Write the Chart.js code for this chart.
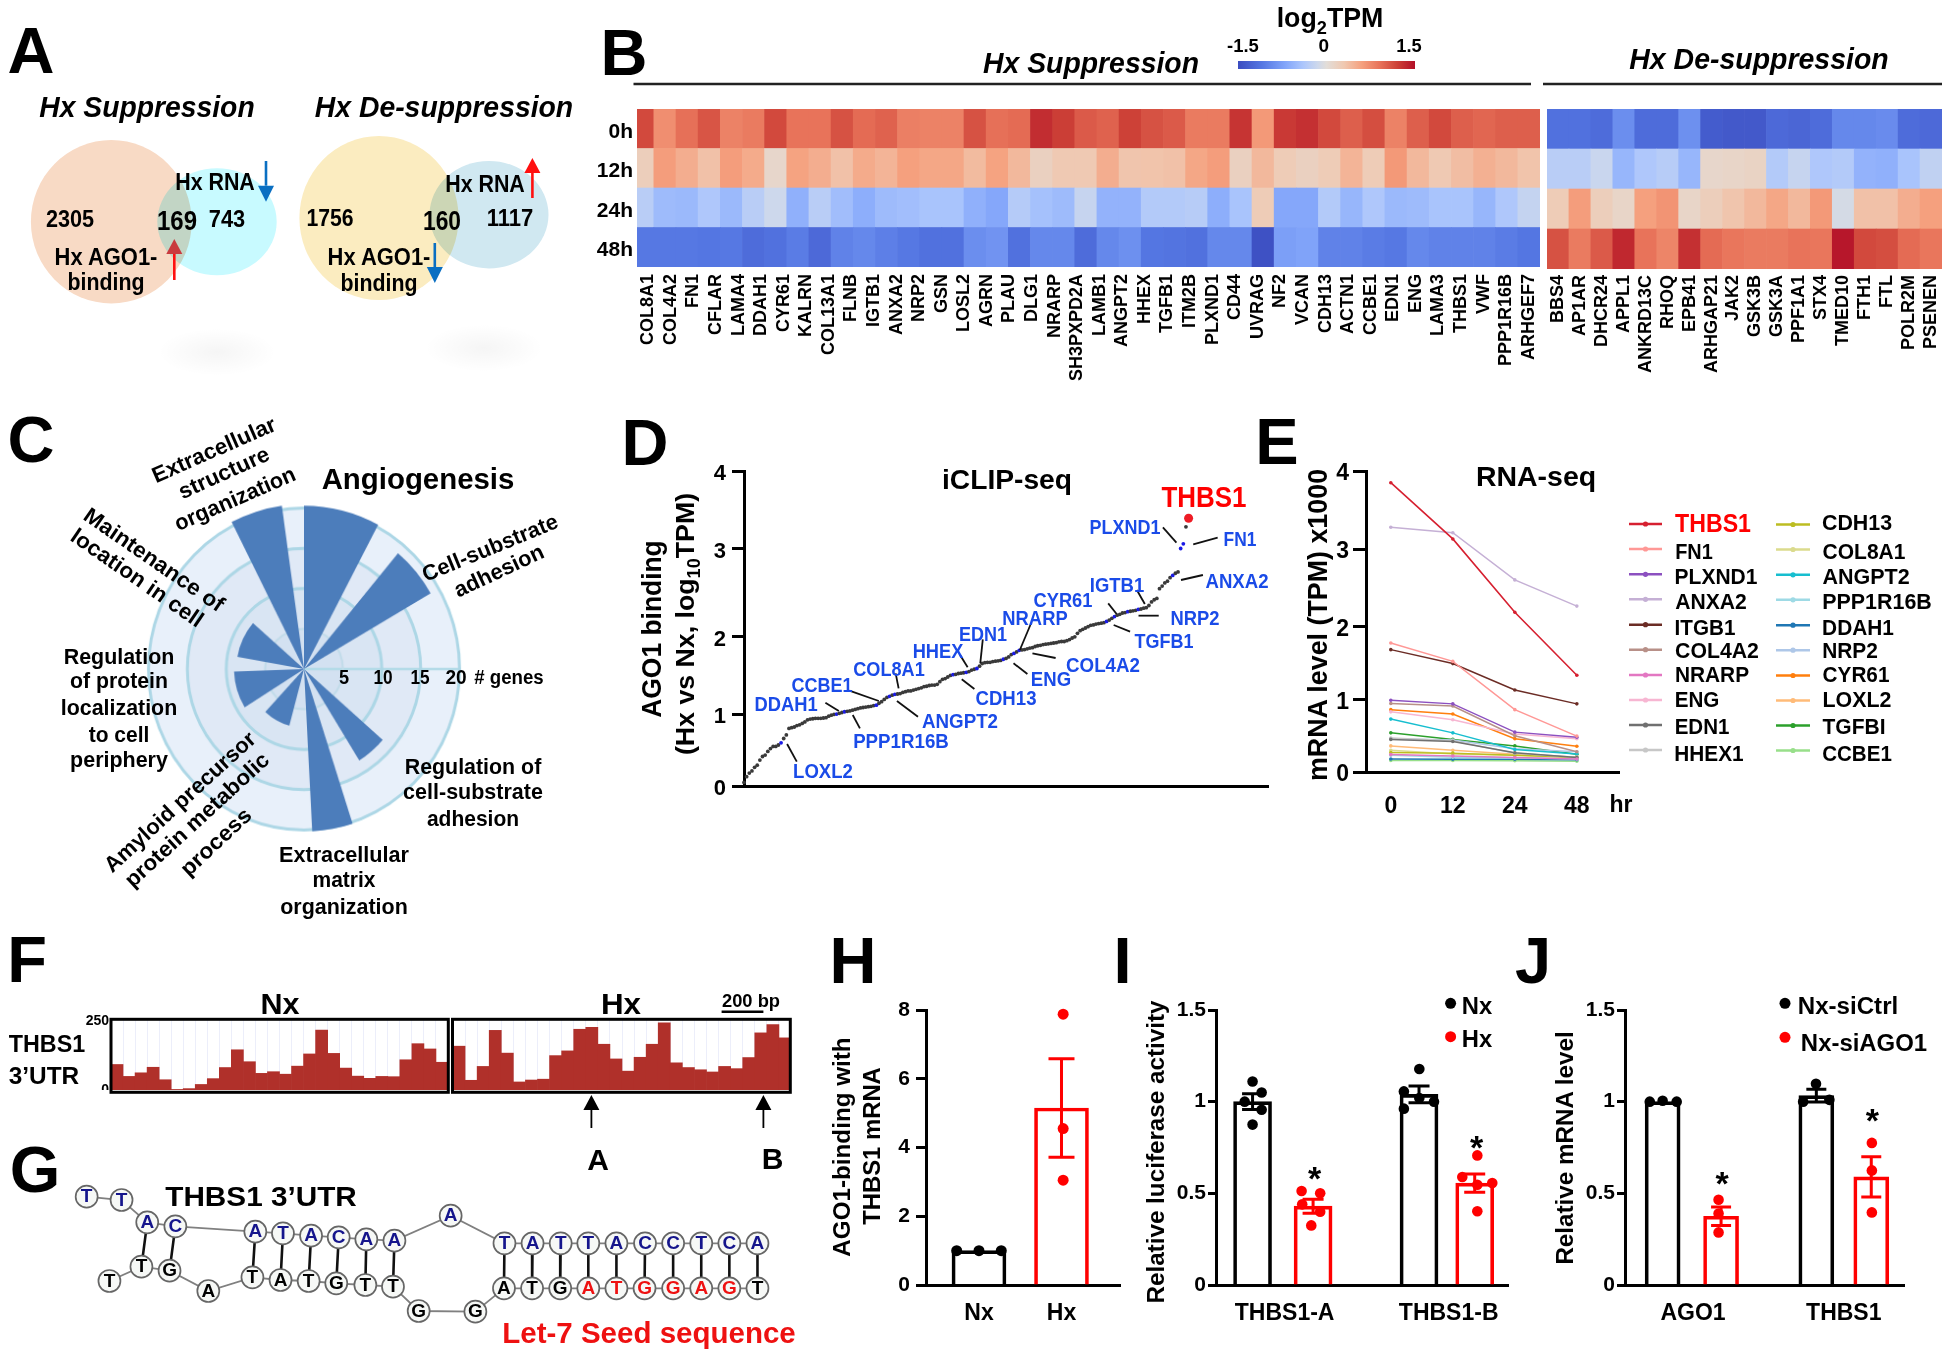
<!DOCTYPE html>
<html><head><meta charset="utf-8">
<script src="https://cdn.jsdelivr.net/npm/chart.js@4"></script>
<style>
html,body{margin:0;padding:0;background:#fff}
#root{position:relative;width:1950px;height:1357px;overflow:hidden;background:#fff;font-family:"Liberation Sans",Arial,sans-serif}
#root canvas{position:absolute}
#root svg{position:absolute;left:0;top:0}
.t{position:absolute;white-space:nowrap;line-height:1;color:#000}
.t sub{font-size:68%;line-height:0}
</style></head><body><div id="root"></div>
<script>
// ---------- DATA ----------
const suppGenes=["COL8A1","COL4A2","FN1","CFLAR","LAMA4","DDAH1","CYR61","KALRN","COL13A1","FLNB","IGTB1","ANXA2","NRP2","GSN","LOSL2","AGRN","PLAU","DLG1","NRARP","SH3PXPD2A","LAMB1","ANGPT2","HHEX","TGFB1","ITM2B","PLXND1","CD44","UVRAG","NF2","VCAN","CDH13","ACTN1","CCBE1","EDN1","ENG","LAMA3","THBS1","VWF","PPP1R16B","ARHGEF7"];
const desuppGenes=["BBS4","AP1AR","DHCR24","APPL1","ANKRD13C","RHOQ","EPB41","ARHGAP21","JAK2","GSK3B","GSK3A","PPF1A1","STX4","TMED10","FTH1","FTL","POLR2M","PSENEN"];
const timeRows=["0h","12h","24h","48h"];
const supp0h=[1.15,.72,.92,1.08,.8,.85,1.15,.9,.9,1.1,.95,1.0,.82,.8,.8,1.1,.92,.95,1.32,1.22,1.05,1.0,1.2,1.1,1.05,.85,.85,1.28,.65,1.25,1.3,1.15,1.02,1.12,.8,1.02,1.15,1.02,.98,1.02,1.02];
const supp12h=[.22,.62,.5,.35,.62,.52,.1,.58,.5,.35,.52,.45,.6,.55,.55,.4,.58,.42,.18,.28,.28,.5,.32,.33,.35,.55,.62,.18,.42,.25,.18,.25,.45,.25,.65,.42,.28,.38,.48,.42,.33];
const supp24h=[-.3,-.5,-.52,-.38,-.52,-.3,-.15,-.6,-.3,-.48,-.62,-.5,-.47,-.42,-.42,-.6,-.68,-.33,-.45,-.5,-.2,-.58,-.58,-.35,-.35,-.32,-.62,-.42,.25,-.68,-.68,-.35,-.55,-.38,-.52,-.5,-.42,-.42,-.55,-.38,-.22];
const supp48h=[-1.08,-1.08,-1.08,-1.1,-1.08,-1.2,-1.15,-1.05,-1.22,-1.0,-.95,-1.02,-1.08,-1.15,-1.15,-.9,-.85,-1.15,-.95,-.95,-1.2,-.95,-.88,-1.1,-1.12,-1.15,-.95,-.95,-1.45,-.75,-.72,-1,-1,-1.05,-1.08,-.95,-1,-1,-1,-1.05,-1.1];
const desupp0h=[-1.15,-1.15,-1.2,-.9,-1.2,-1.2,-.88,-1.35,-1.38,-1.38,-1.22,-1.25,-1.2,-.95,-.95,-.92,-1.2,-1.22];
const desupp12h=[-.3,-.3,-.18,-.55,-.38,-.32,-.55,.1,.12,.15,-.35,-.2,-.38,-.35,-.58,-.6,-.42,-.25];
const desupp24h=[.25,.62,.22,.12,.6,.68,.12,.22,.32,.42,.55,.42,.65,-.1,.35,.35,.5,.6];
const desupp48h=[1.1,.85,1.05,1.35,.9,.78,1.3,.95,.88,.85,.85,.9,.88,1.45,1.15,1.12,.95,.88];

const goTerms=["Angiogenesis","","Cell-substrate adhesion","","Regulation of cell-substrate adhesion","","Extracellular matrix organization","","Amyloid precursor protein metabolic process","","Regulation of protein localization to cell periphery","","Maintenance of location in cell","","Extracellular structure organization",""];
const goCounts=[20.3,0,18.8,0,13.4,0,20.2,0,7.3,0,9,0,8.7,0,20.5,0];
const goAngles=[28,12,20,71,17,14,15,18,28,15,30,12,31,22,19,8];

const iclipValues=[.05,.13,.18,.21,.26,.29,.36,.41,.43,.48,.52,.55,.55,.57,.60,.66,.71,.80,.81,.82,.84,.85,.87,.89,.92,.93,.935,.94,.94,.94,.945,.95,.97,.985,.995,1.0,1.01,1.02,1.03,1.035,1.04,1.05,1.06,1.07,1.08,1.085,1.09,1.095,1.10,1.11,1.115,1.14,1.16,1.19,1.215,1.23,1.245,1.255,1.26,1.265,1.28,1.29,1.30,1.30,1.31,1.32,1.33,1.34,1.355,1.36,1.37,1.375,1.375,1.385,1.42,1.45,1.46,1.48,1.50,1.51,1.515,1.525,1.53,1.535,1.54,1.55,1.57,1.58,1.59,1.62,1.655,1.665,1.67,1.67,1.68,1.685,1.69,1.695,1.71,1.72,1.74,1.77,1.785,1.805,1.825,1.83,1.835,1.845,1.855,1.86,1.875,1.885,1.89,1.90,1.905,1.91,1.915,1.92,1.925,1.935,1.94,1.94,1.95,1.965,1.985,2.0,2.04,2.07,2.085,2.10,2.115,2.13,2.135,2.145,2.15,2.155,2.16,2.175,2.19,2.21,2.23,2.245,2.255,2.27,2.275,2.285,2.29,2.295,2.30,2.31,2.315,2.325,2.33,2.355,2.395,2.42,2.435,2.545,2.575,2.61,2.63,2.67,2.695,2.72,2.735,3.0,3.06,3.28,3.39];
const iclipBlueRanks=[14,35,38,50,55,57,79,84,88,98,102,104,137,140,145,149,162,165,166];
const iclipRedRank=168;

const rnaHours=["0","12","24","48"];
const rnaGenes=["THBS1","FN1","PLXND1","ANXA2","ITGB1","COL4A2","NRARP","ENG","EDN1","HHEX1","CDH13","COL8A1","ANGPT2","PPP1R16B","DDAH1","NRP2","CYR61","LOXL2","TGFBI","CCBE1"];
const rnaTHBS1=[3.85,3.13,2.18,1.33];
const rnaFN1=[1.77,1.52,.86,.495];
const rnaPLXND1=[.99,.94,.55,.48];
const rnaANXA2=[3.28,3.21,2.6,2.26];
const rnaITGB1=[1.68,1.49,1.13,.94];
const rnaCOL4A2=[.945,.91,.5,.28];
const rnaNRARP=[.24,.22,.2,.18];
const rnaENG=[.83,.72,.525,.46];
const rnaEDN1=[.45,.42,.265,.2];
const rnaHHEX1=[.47,.43,.26,.205];
const rnaCDH13=[.27,.26,.23,.205];
const rnaCOL8A1=[.3,.25,.23,.195];
const rnaANGPT2=[.73,.54,.31,.25];
const rnaPPP1R16B=[.23,.205,.195,.18];
const rnaDDAH1=[.18,.175,.175,.17];
const rnaNRP2=[.46,.44,.32,.28];
const rnaCYR61=[.86,.8,.46,.355];
const rnaLOXL2=[.36,.3,.245,.205];
const rnaTGFBI=[.54,.45,.36,.245];
const rnaCCBE1=[.16,.16,.155,.15];

const nxCoverage=[92,49,62,82,37,2,5,20,41,81,145,102,60,66,57,86,130,216,132,79,50,42,49,48,109,167,148,100];
const hxCoverage=[158,35,85,215,133,29,36,39,124,141,219,226,165,112,68,118,165,242,98,81,73,65,85,77,117,206,236,188];

const rnaTopBases=["T","T","A","C","A","T","A","C","A","A","A","T","A","T","T","A","C","C","T","C","A"];
const rnaTopX=[55,127,180,238,403,460,518,575,632,690,806,917,975,1033,1090,1148,1207,1265,1323,1381,1439];
const rnaTopY=[140,150,217,229,245,250,257,262,268,272,197,280,280,280,280,280,280,280,280,280,280];
const rnaBotBases=["T","T","G","A","T","A","T","G","T","T","G","G","A","T","G","A","T","G","G","A","G","T"];
const rnaBotX=[102,168,226,306,397,455,513,570,630,687,740,857,916,974,1032,1090,1148,1206,1265,1323,1381,1439];
const rnaBotY=[393,350,362,423,382,390,393,400,405,410,483,485,415,415,415,415,415,415,415,415,415,415];
const rnaPairTop=[2,3,4,5,6,7,8,9,11,12,13,14,15,16,17,18,19,20];
const rnaPairBot=[1,2,4,5,6,7,8,9,12,13,14,15,16,17,18,19,20,21];
const seedBotRanks=[15,16,17,18,19,20];

const hLabels=["Nx","Hx"];
const hBarX=[0,1], hMeans=[1,5.15], hSem=[0,1.43];
const hNxDotX=[-.27,0,.27], hNxDotY=[1,1,1];
const hHxDotX=[1.02,1.02,1.02], hHxDotY=[7.88,4.55,3.05];

const iLabels=["THBS1-A","THBS1-B"];
const iBarX=[0,1,2.75,3.67], iMeans=[1,.43,1.04,.556], iSem=[.043,.038,.046,.05];
const iNxDotX=[0,.15,-.13,.15,0,2.755,2.5,2.755,2.997,2.5], iNxDotY=[1.11,1.05,1.0,.956,.875,1.178,1.056,1.02,1.0,.962];
const iHxDotX=[.81,1.117,.82,1.117,.97,3.713,3.465,3.96,3.713,3.713], iHxDotY=[.513,.5,.44,.4,.325,.707,.589,.556,.547,.402];

const jLabels=["AGO1","THBS1"];
const jBarX=[0,1,2.63,3.57], jMeans=[1,.375,1.033,.59], jSem=[0,.05,.035,.11];
const jCtrlDotX=[-.22,0,.24,2.624,2.404,2.853], jCtrlDotY=[1,1.005,1,1.098,1.0,1.01];
const jSiDotX=[.957,.957,.957,3.58,3.58,3.58], jSiDotY=[.465,.39,.287,.775,.625,.396];

// ---------- STYLE / HELPERS ----------
const FONT='"Liberation Sans",Arial,sans-serif';
Chart.defaults.font.family=FONT;
Chart.defaults.color='#000';
Chart.defaults.animation=false;
const root=document.getElementById('root');

function T(x,y,html,o={}){
  const e=document.createElement('div');e.className='t';
  e.innerHTML=html;
  e.style.fontSize=(o.size||22)+'px';
  e.style.fontWeight=o.weight||'bold';
  if(o.italic)e.style.fontStyle='italic';
  if(o.color)e.style.color=o.color;
  e.style.left=x+'px';e.style.top=y+'px';
  root.appendChild(e);
  let sx=1;
  if(o.w){sx=o.w/e.offsetWidth;}
  e.style.transform=`translate(-50%,-50%) rotate(${o.rot||0}deg) scaleX(${sx})`;
  e.style.zIndex=5;
  return e;
}
function TL(x,y,html,o){return T(x+o.w/2,y,html,o);}

const HEAT_STOPS=[[-1.5,59,76,192],[-1.1,84,118,226],[-.7,130,165,250],[-.4,172,198,252],[-.15,205,216,236],[0,226,221,216],[.3,240,200,176],[.6,245,160,126],[.9,232,115,90],[1.2,205,65,55],[1.5,178,15,40]];
function heat(v){
  for(let i=1;i<HEAT_STOPS.length;i++){
    const a=HEAT_STOPS[i-1],b=HEAT_STOPS[i];
    if(v<=b[0]){const f=Math.max(0,(v-a[0])/(b[0]-a[0]));
      return `rgb(${Math.round(a[1]+f*(b[1]-a[1]))},${Math.round(a[2]+f*(b[2]-a[2]))},${Math.round(a[3]+f*(b[3]-a[3]))})`;}
  }
  return 'rgb(178,15,40)';
}

const PIECES={D:[0,.2284,.4735,.7539,1],E:[0,.2408,.4845,.7406,1]};
class PiecewiseScale extends Chart.LinearScale{
  static id='piecewise';
  static defaults=Chart.LinearScale.defaults;
  getPixelForValue(v){
    if(v===null||v===undefined)return NaN;
    const p=PIECES[this.options.pieceKey];
    const i=Math.min(Math.max(Math.floor(v),0),p.length-2);
    return this.getPixelForDecimal(p[i]+(v-i)*(p[i+1]-p[i]));
  }
}
Chart.register(PiecewiseScale);

function mk(L,Tp,R,B,g,cfg){
  const {l=0,t=0,r=0,b=0}=g;
  const c=document.createElement('canvas');
  const w=Math.round(R-L+l+r),h=Math.round(B-Tp+t+b);
  c.width=w;c.height=h;
  c.style.left=(L-l)+'px';c.style.top=(Tp-t)+'px';c.style.width=w+'px';c.style.height=h+'px';
  root.appendChild(c);
  const o=cfg.options=cfg.options||{};
  o.responsive=false;o.maintainAspectRatio=false;o.animation=false;o.devicePixelRatio=1;
  o.plugins=Object.assign({legend:{display:false},tooltip:{enabled:false}},o.plugins||{});
  let xv=false,yv=false;
  for(const k in (o.scales||{})){
    const s=o.scales[k];
    if(s.display===false)continue;
    if(k[0]==='x'){xv=true;s.offset=s.offsetKeep?true:false;s.afterFit=a=>{a.height=b;a.paddingLeft=0;a.paddingRight=0;};}
    if(k[0]==='y'){yv=true;s.afterFit=a=>{a.width=l;a.paddingTop=0;a.paddingBottom=0;};}
  }
  o.layout={autoPadding:false,padding:{left:yv?0:l,top:t,right:r,bottom:xv?0:b}};
  return new Chart(c,cfg);
}

const AX={color:'#000',width:3};
const yGrid=(len)=>({drawOnChartArea:false,drawTicks:true,tickLength:len,tickWidth:3,tickColor:'#000'});
const noGrid={display:false,drawTicks:false};

const errPlugin={id:'err',afterDatasetsDraw(ch){
  const y=ch.scales.y,ctx=ch.ctx;
  ch.data.datasets.forEach((ds,k)=>{
    if(!ds.sem)return;
    ch.getDatasetMeta(k).data.forEach((el,i)=>{
      if(!ds.sem[i])return;
      const m=ds.data[i].y,top=y.getPixelForValue(m+ds.sem[i]),bot=y.getPixelForValue(m-ds.sem[i]),cap=ds.capPx;
      ctx.save();ctx.strokeStyle=ds.borderColor[i];ctx.lineWidth=3;ctx.beginPath();
      ctx.moveTo(el.x,top);ctx.lineTo(el.x,bot);
      ctx.moveTo(el.x-cap/2,top);ctx.lineTo(el.x+cap/2,top);
      ctx.moveTo(el.x-cap/2,bot);ctx.lineTo(el.x+cap/2,bot);
      ctx.stroke();ctx.restore();
    });
  });
}};
const pts=(xs,ys)=>xs.map((x,i)=>({x,y:ys[i]}));

// ---------- PANEL B heatmaps ----------
const ROW_ORDER_S=[supp48h,supp24h,supp12h,supp0h];
const ROW_ORDER_D=[desupp48h,desupp24h,desupp12h,desupp0h];
const rowTicks=a=>{a.ticks=[.5,1.5,2.5,3.5].map(value=>({value}));};
const rowLabel=(v,i)=>timeRows[3-i];
const rowFont={size:21,weight:'bold'};
const geneFont={size:18,weight:'bold'};
mk(636.6,109.3,1540,267.7,{l:46,t:14,r:4,b:132},{
  type:'bar',
  data:{datasets:ROW_ORDER_S.map((vals,k)=>({
    data:vals.map((v,i)=>({x:i+.5,y:1})),
    backgroundColor:vals.map(heat),barPercentage:1,categoryPercentage:1,borderWidth:0}))},
  options:{scales:{
    x:{type:'linear',display:false,stacked:true,min:.24,max:41,offset:false},
    x2:{type:'category',labels:suppGenes,offsetKeep:true,position:'bottom',grid:noGrid,border:{display:false},
        ticks:{autoSkip:false,minRotation:90,maxRotation:90,padding:7,font:geneFont}},
    y:{stacked:true,min:0,max:4,afterBuildTicks:rowTicks,grid:{display:false,drawTicks:false},border:{display:false},
       ticks:{autoSkip:false,padding:4,labelOffset:3,font:rowFont,callback:rowLabel}}
  }}
});
mk(1547.3,109.3,1942,269.3,{l:0,t:14,r:4,b:132},{
  type:'bar',
  data:{labels:desuppGenes,datasets:ROW_ORDER_D.map(vals=>({
    data:vals.map(()=>1),backgroundColor:vals.map(heat),barPercentage:1,categoryPercentage:1,borderWidth:0}))},
  options:{scales:{
    x:{stacked:true,offsetKeep:true,grid:noGrid,border:{display:false},ticks:{autoSkip:false,minRotation:90,maxRotation:90,padding:6,font:geneFont}},
    y:{display:false,stacked:true,min:0,max:4}
  }}
});
// colour bar
(function(){
  const d=document.createElement('div');
  const a=HEAT_STOPS[0][0],z=HEAT_STOPS[HEAT_STOPS.length-1][0];
  d.style.cssText='position:absolute;left:1237.5px;top:61px;width:177.5px;height:8px;background:linear-gradient(90deg,'+
    HEAT_STOPS.map(s=>`rgb(${s[1]},${s[2]},${s[3]}) ${((s[0]-a)/(z-a)*100).toFixed(1)}%`).join(',')+')';
  root.appendChild(d);
})();

// ---------- PANEL C polar ----------
const C_CX=304,C_CY=668.6,C_UNIT=7.9,C_HALF=Math.round(25*C_UNIT);
const discPlugin={id:'disc',beforeDraw(ch){
  const r=ch.scales.r,ctx=ch.ctx;
  ctx.save();
  [[20,'#e8f0fa'],[15,'#e0e9f6'],[10,'#d9e5f3'],[5,'#d3e1f1']].forEach(([v,c])=>{
    ctx.fillStyle=c;ctx.beginPath();ctx.arc(r.xCenter,r.yCenter,r.getDistanceFromCenterForValue(v),0,Math.PI*2);ctx.fill();
  });
  ctx.strokeStyle='#b4dbe8';ctx.lineWidth=2.5;ctx.beginPath();
  ctx.moveTo(r.xCenter,r.yCenter);ctx.lineTo(r.xCenter+r.getDistanceFromCenterForValue(20),r.yCenter);ctx.stroke();
  ctx.restore();
}};
(function(){
  const ch=mk(C_CX-C_HALF,C_CY-C_HALF,C_CX+C_HALF,C_CY+C_HALF,{},{
    type:'polarArea',
    data:{labels:goTerms,datasets:[{data:goCounts,angle:c=>goAngles[c.dataIndex],backgroundColor:'#4c7dbb',borderWidth:0}]},
    options:{scales:{r:{min:0,max:25,startAngle:0,ticks:{display:false,stepSize:5},
      grid:{circular:true,lineWidth:c=>c.tick.value===5?2:3,color:c=>c.tick.value>20?'rgba(0,0,0,0)':(c.tick.value===5?'#c2dcea':'#add7e6')}}}},
    plugins:[discPlugin]
  });
  ch.canvas.style.transform='scale(.982,1.016)';
})();

// ---------- PANEL D scatter ----------
const iclipColor=iclipValues.map((v,i)=>i===iclipRedRank?'#ee1c25':iclipBlueRanks.includes(i)?'#1a1ae6':'#3a3a3a');
const iclipRadius=iclipValues.map((v,i)=>i===iclipRedRank?4.5:1.9);
mk(744,470.7,1268,786,{l:62,t:16,r:6,b:14},{
  type:'scatter',
  data:{datasets:[{data:iclipValues.map((y,x)=>({x,y})),pointBackgroundColor:iclipColor,pointRadius:iclipRadius,pointBorderWidth:0,clip:false}]},
  options:{scales:{
    x:{type:'linear',min:0,max:198,grid:noGrid,border:AX,ticks:{display:false}},
    y:{type:'piecewise',pieceKey:'D',min:0,max:4,border:AX,grid:yGrid(12),ticks:{stepSize:1,padding:6,labelOffset:3,font:{size:22,weight:'bold'}}}
  }}
});

// ---------- PANEL E lines ----------
const rnaSeries=[rnaTHBS1,rnaFN1,rnaPLXND1,rnaANXA2,rnaITGB1,rnaCOL4A2,rnaNRARP,rnaENG,rnaEDN1,rnaHHEX1,rnaCDH13,rnaCOL8A1,rnaANGPT2,rnaPPP1R16B,rnaDDAH1,rnaNRP2,rnaCYR61,rnaLOXL2,rnaTGFBI,rnaCCBE1];
const rnaColors=['#d62030','#ff9896','#8c50c0','#c5b0d5','#6b2c25','#b89088','#e377c2','#f7b6d2','#707070','#c7c7c7','#bcbd22','#dbdb8d','#17becf','#9edae5','#1f77b4','#aec7e8','#ff7f0e','#ffbb78','#2ca02c','#98df8a'];
mk(1365.6,471,1618.7,771.7,{l:48,t:16,r:14,b:50},{
  type:'line',
  data:{datasets:rnaGenes.map((g,k)=>({label:g,data:rnaSeries[k].map((y,x)=>({x,y})),borderColor:rnaColors[k],backgroundColor:rnaColors[k],borderWidth:k===0?1.6:1.5,pointRadius:1.8,pointBorderWidth:0,tension:0}))},
  options:{scales:{
    x:{type:'linear',min:-.4,max:3.68,grid:noGrid,border:AX,afterBuildTicks:a=>{a.ticks=[0,1,2,3].map(value=>({value}));},
       ticks:{autoSkip:false,padding:21,maxRotation:0,font:{size:23,weight:'bold'},callback:(v,i)=>rnaHours[i]}},
    y:{type:'piecewise',pieceKey:'E',min:0,max:4,border:AX,grid:yGrid(13),ticks:{stepSize:1,padding:4,labelOffset:3,font:{size:23,weight:'bold'}}}
  }}
});

// ---------- PANEL F tracks ----------
const TRACK_RED='#b0302a';
function track(L,R,vals,withTicks){
  mk(L,1019.3,R,1090.7,{l:withTicks?40:0,t:withTicks?10:0},{
    type:'bar',
    data:{labels:vals.map((_,i)=>i+1),datasets:[{data:vals,backgroundColor:TRACK_RED,barPercentage:1,categoryPercentage:1,borderWidth:0}]},
    options:{scales:{
      x:{display:true,offsetKeep:true,grid:{display:true,drawTicks:false,color:'#eceefa',lineWidth:1},border:{display:false},ticks:{display:false}},
      y:withTicks?{min:0,max:256,grid:{display:false,drawTicks:false},border:{display:false},afterBuildTicks:a=>{a.ticks=[0,250].map(value=>({value}));},
         ticks:{padding:2,autoSkip:false,font:{size:14,weight:'bold'}}}:{display:false,min:0,max:256}
    }}
  });
}
track(111,448.3,nxCoverage,true);
track(452.5,790.3,hxCoverage,false);

// ---------- PANEL G structure ----------
const basePlugin={id:'bases',afterDatasetsDraw(ch){
  const ctx=ch.ctx;ctx.save();ctx.textAlign='center';ctx.textBaseline='middle';ctx.font='bold 19px '+FONT;
  ch.data.datasets.forEach((ds,k)=>{
    if(!ds.bases)return;
    ch.getDatasetMeta(k).data.forEach((el,i)=>{
      ctx.fillStyle=ds.baseColors[i];ctx.fillText(ds.bases[i],el.x,el.y+.5);
    });
  });
  ctx.restore();
}};
const pairLine=rnaPairTop.flatMap((t,i)=>[{x:rnaTopX[t],y:rnaTopY[t]},{x:rnaBotX[rnaPairBot[i]],y:rnaBotY[rnaPairBot[i]]},{x:null,y:null}]);
mk(60,1150,820,1357,{},{
  type:'scatter',
  data:{datasets:[
    {data:pts(rnaTopX,rnaTopY),showLine:true,borderColor:'#808080',borderWidth:1.8,pointRadius:0,order:3},
    {data:pts(rnaBotX,rnaBotY),showLine:true,borderColor:'#808080',borderWidth:1.8,pointRadius:0,order:3},
    {data:pairLine,showLine:true,borderColor:'#111',borderWidth:2.6,pointRadius:0,spanGaps:false,order:2},
    {data:pts(rnaTopX,rnaTopY),pointRadius:11,pointBackgroundColor:'#f6f8f6',pointBorderColor:'#666',pointBorderWidth:1.7,order:1,
      bases:rnaTopBases,baseColors:rnaTopBases.map(()=>'#15158c')},
    {data:pts(rnaBotX,rnaBotY),pointRadius:11,pointBackgroundColor:'#f6f8f6',pointBorderColor:'#666',pointBorderWidth:1.7,order:1,
      bases:rnaBotBases,baseColors:rnaBotBases.map((b,i)=>seedBotRanks.includes(i)?'#ee1111':'#000')}
  ]},
  options:{scales:{x:{type:'linear',display:false,min:0,max:1568},y:{type:'linear',display:false,min:0,max:621,reverse:true}}},
  plugins:[basePlugin]
});

// ---------- PANELS H, I, J ----------
function barPanel(L,R,g,cfg){
  const colors=cfg.barX.map((_,i)=>cfg.barColors[i]);
  const dots=cfg.dots.map(d=>({type:'scatter',data:pts(d.x,d.y),pointRadius:d.r,pointBackgroundColor:d.c,pointBorderWidth:0,order:1,clip:false}));
  mk(L,1010,R,1285.3,g,{
    data:{datasets:[{type:'bar',data:pts(cfg.barX,cfg.means),sem:cfg.sem,capPx:cfg.cap,barThickness:cfg.thick,
        backgroundColor:'rgba(255,255,255,0)',borderColor:colors,borderWidth:3,order:2},...dots]},
    options:{scales:{
      x:{type:'linear',min:cfg.min,max:cfg.max,grid:noGrid,border:AX,afterBuildTicks:a=>{a.ticks=cfg.tickX.map(value=>({value}));},
         ticks:{autoSkip:false,maxRotation:0,padding:15,font:{size:cfg.xFont,weight:'bold'},callback:(v,i)=>cfg.labels[i]}},
      y:{min:0,max:cfg.ymax,border:AX,grid:yGrid(cfg.tick),ticks:{stepSize:cfg.step,padding:cfg.pad,font:{size:21,weight:'bold'},callback:v=>String(v)}}
    }},
    plugins:[errPlugin]
  });
}
barPanel(926,1120,{l:50,t:14,r:8,b:50},{barX:hBarX,means:hMeans,sem:hSem,barColors:['#000','#ff0000'],cap:26,thick:54,
  dots:[{x:hNxDotX,y:hNxDotY,c:'#000',r:5.5},{x:hHxDotX,y:hHxDotY,c:'#ff0000',r:5.5}],
  min:-.642,max:1.709,tickX:[0,1],labels:hLabels,ymax:8,step:2,tick:10,pad:6,xFont:23});
barPanel(1216.4,1508.7,{l:56,t:14,r:10,b:50},{barX:iBarX,means:iMeans,sem:iSem,barColors:['#000','#ff0000','#000','#ff0000'],cap:21,thick:38,
  dots:[{x:iNxDotX,y:iNxDotY,c:'#000',r:5.3},{x:iHxDotX,y:iHxDotY,c:'#ff0000',r:5.3}],
  min:-.604,max:4.22,tickX:[.53,3.24],labels:iLabels,ymax:1.5,step:.5,tick:8,pad:2,xFont:23});
barPanel(1625.3,1904.6,{l:56,t:14,r:10,b:50},{barX:jBarX,means:jMeans,sem:jSem,barColors:['#000','#ff0000','#000','#ff0000'],cap:20,thick:35,
  dots:[{x:jCtrlDotX,y:jCtrlDotY,c:'#000',r:5.3},{x:jSiDotX,y:jSiDotY,c:'#ff0000',r:5.3}],
  min:-.644,max:4.13,tickX:[.52,3.1],labels:jLabels,ymax:1.5,step:.5,tick:8,pad:2,xFont:23});

// ---------- SVG annotations ----------
const NS='http://www.w3.org/2000/svg';
const svg=document.createElementNS(NS,'svg');
svg.setAttribute('width',1950);svg.setAttribute('height',1357);
svg.style.zIndex=3;
root.appendChild(svg);
function S(tag,a,st){const e=document.createElementNS(NS,tag);for(const k in a)e.setAttribute(k,a[k]);if(st)e.style.cssText=st;svg.appendChild(e);return e;}
function ell(cx,cy,rx,ry,fill){S('ellipse',{cx,cy,rx,ry,fill},'mix-blend-mode:multiply');}
function line(x1,y1,x2,y2,c='#000',w=2){S('line',{x1,y1,x2,y2,stroke:c,'stroke-width':w});}
function arrow(x,y1,y2,c,hw,hh,w,hc){ // from y1 (tail) to y2 (tip)
  const d=y2>y1?1:-1;
  line(x,y1,x,y2-d*hh,c,w);
  S('polygon',{points:`${x-hw},${y2-d*hh} ${x+hw},${y2-d*hh} ${x},${y2}`,fill:hc||c});
}
// Venn
ell(111.3,221.7,80.4,81.7,'#f8dac5');
ell(217,221.7,59.7,53.5,'#c8faff');
ell(379,218,79.6,82,'#fbecc0');
ell(489,214.7,59.5,53.7,'#d0e8f1');
arrow(266,161,201.7,'#0a6fc2',8,16,2.6);
arrow(174.3,280,239,'#ff1010',8,15,2.6,'#c93a3e');
arrow(532.4,198,158,'#ff1010',8,15,2.6);
arrow(434.8,243,283,'#0a6fc2',8,16,2.6);
// header rules
line(633.5,84,1531,84,'#222',2.4);
line(1543,84,1942,84,'#222',2.4);
// F frames, scale bar, arrows
S('rect',{x:111,y:1019.3,width:337.3,height:73,fill:'none',stroke:'#000','stroke-width':3});
S('rect',{x:452.5,y:1019.3,width:337.8,height:73,fill:'none',stroke:'#000','stroke-width':3});
line(721.6,1011.7,763.4,1011.7,'#000',2.6);
arrow(591.4,1128,1095,'#000',8,15,1.8);
arrow(763.4,1128,1095,'#000',8,15,1.8);
// D leaders (read in the crop's own coordinates)
const dx=z=>620+z/2.376,dy=z=>420+z/3;
[[1290,322,1322,368],[1362,373,1420,353],[1333,480,1385,465],[1228,510,1247,552],[1160,550,1180,582],[1232,587,1280,587],[1173,615,1212,635],[975,615,950,690],[980,700,1035,714],[862,658,856,730],[935,730,968,762],[808,705,826,742],[812,778,842,807],[655,760,662,805],[658,843,708,890],[545,812,615,843],[488,848,520,873],[553,885,570,925],[397,972,420,1025]]
  .forEach(s=>line(dx(s[0]),dy(s[1]),dx(s[2]),dy(s[3]),'#111',1.8));
// E legend swatches
const lgSwY=[524,549,574.3,599.3,624.7,649.7,675,700,725,750];
const lgTextY=[523.3,551.7,577.3,602.3,627.7,650.5,675,700,727.3,754.3];
const lgWidths=[76,38,83,72,61,84,74,45,55,69,70,83,87,110,72,56,67,69,63,70];
rnaGenes.forEach((g,k)=>{
  const col=k<10?0:1,row=k%10;
  const x1=col?1776:1629,x2=col?1810:1662,tx=col?1822:1674.6;
  const sy=lgSwY[row]+(col?.5:0);
  line(x1,sy,x2,sy,rnaColors[k],2.4);
  S('circle',{cx:(x1+x2)/2,cy:sy,r:2.6,fill:rnaColors[k]});
  TL(tx,lgTextY[row],g,{size:k===0?25:22,w:lgWidths[k],color:k===0?'#ff0000':'#000'});
});
// I, J legends
[[1450.6,1003.3,'#000'],[1450.6,1036.7,'#ff0000'],[1785,1003.3,'#000'],[1785,1037.3,'#ff0000']].forEach(c=>S('circle',{cx:c[0],cy:c[1],r:5.5,fill:c[2]}));

// blurred shadows under the Venn diagrams
[[217,352],[484,348]].forEach(c=>{
  const d=document.createElement('div');
  d.style.cssText=`position:absolute;left:${c[0]-60}px;top:${c[1]-24}px;width:120px;height:48px;background:radial-gradient(ellipse at center,rgba(0,0,0,.04),rgba(0,0,0,0) 70%)`;
  root.appendChild(d);
});

// ---------- TEXT ----------
[["A",31,50],["B",624,52],["C",31,439],["D",645,442],["E",1277,441],["F",27,959],["G",35,1169],["H",853,960],["I",1122.5,960],["J",1533,960]]
  .forEach(p=>T(p[1],p[2],p[0],{size:65}));
// A
T(147,107,"Hx Suppression",{size:30,italic:true,w:215});
T(444,107,"Hx De-suppression",{size:30,italic:true,w:258});
[[215.4,182,"Hx RNA",80],[69.6,219,"2305",48],[227,219,"743",36],[106,257,"Hx AGO1-",103],[106,281.7,"binding",77],
 [485,184,"Hx RNA",80],[330,218,"1756",47],[510,218,"1117",47],[378.7,257,"Hx AGO1-",103],[378.7,282.7,"binding",77]]
 .forEach(p=>T(p[0],p[1],p[2],{size:23,w:p[3]}));
T(177,220.7,"169",{size:27,w:40});
T(441.5,220.7,"160",{size:27,w:38});
// B
T(1091,63,"Hx Suppression",{size:30,italic:true,w:215.6});
T(1759,59,"Hx De-suppression",{size:30,italic:true,w:259});
T(1329.5,18,"log<sub>2</sub>TPM",{size:28,w:107});
T(1243,45,"-1.5",{size:19,w:32});T(1323.7,45,"0",{size:19});T(1409,45,"1.5",{size:19,w:25});
// C
T(418,479,"Angiogenesis",{size:30,w:193});
[[214,450,"Extracellular",-23.7,133],[224,473,"structure",-24.4,97],[235,499,"organization",-23.5,130],
 [490,547.5,"Cell-substrate",-22.3,145],[499.4,571,"adhesion",-25,97],
 [154,560,"Maintenance of",34.6,165],[137,577.7,"location in cell",34.7,156],
 [180,801.7,"Amyloid precursor",-42.4,197],[197,820,"protein metabolic",-42.5,187],[216,841.7,"process",-43,88]]
 .forEach(p=>T(p[0],p[1],p[2],{size:22,rot:p[3],w:p[4]}));
[[119.4,656.7,"Regulation",111],[119.4,680.7,"of protein",97.6],[119.4,707.7,"localization",116.7],[119.4,735,"to cell",61],[119.4,760,"periphery",97.6],
 [472.6,767.3,"Regulation of",137],[472.6,792.3,"cell-substrate",139.7],[472.6,819.3,"adhesion",92.6],
 [344.4,855,"Extracellular",130],[344.4,880,"matrix",63],[344.4,906.7,"organization",127.8]]
 .forEach(p=>T(p[0],p[1],p[2],{size:22,w:p[3]}));
[[344.4,"5",10],[382.7,"10",19],[419.8,"15",19],[456,"20",21],[509,"# genes",69]].forEach(p=>T(p[0],676.7,p[1],{size:20,w:p[2]}));
// D
T(1007,480,"iCLIP-seq",{size:27,w:130.5});
T(1204,496.7,"THBS1",{size:29,w:85,color:'#ff0000'});
T(651.6,629,"AGO1 binding",{size:27,rot:-90,w:178});
T(685,624,"(Hx vs Nx, log<sub>10</sub>TPM)",{size:26,rot:-90,w:262});
[["PLXND1",1200,325,71],["FN1",1472,360,33],["ANXA2",1465,487,63],["IGTB1",1180,497,54],["CYR61",1052,543,59],["NRP2",1367,597,49],["TGFB1",1293,665,59],["NRARP",985,597,65],["COL4A2",1147,737,74],["EDN1",862,645,48],["ENG",1025,780,40],["HHEX",755,697,50.5],["CDH13",917,837,61],["COL8A1",640,750,71.5],["ANGPT2",808,907,76],["CCBE1",480,797,61],["DDAH1",395,855,63],["PPP1R16B",668,967,96],["LOXL2",482,1057,60]]
 .forEach(p=>T(dx(p[1]),dy(p[2]),p[0],{size:19.5,w:p[3],color:'#1a4be8'}));
// E
T(1536.4,477.3,"RNA-seq",{size:28,w:120});
T(1318,624.5,"mRNA level (TPM) x1000",{size:27,rot:-90,w:312});
T(1621,804,"hr",{size:23});
// F
T(280,1004,"Nx",{size:29,w:39});T(621.4,1004,"Hx",{size:29,w:40});
T(750.5,1000.7,"200 bp",{size:18,w:58});
T(46.5,1044,"THBS1",{size:23,w:76});T(44,1075.7,"3’UTR",{size:23,w:70});
T(598,1160,"A",{size:30});T(772.5,1159,"B",{size:30});
// G
T(261,1197,"THBS1 3’UTR",{size:28,w:191});
T(649,1333,"Let-7 Seed sequence",{size:29,w:294,color:'#ee1111'});
// H, I, J
T(842,1147,"AGO1-binding with",{size:24,rot:-90,w:219});
T(871.8,1145.8,"THBS1 mRNA",{size:24,rot:-90,w:158});
T(1156.4,1151.7,"Relative luciferase activity",{size:24,rot:-90,w:303});
T(1565,1148.3,"Relative mRNA level",{size:24,rot:-90,w:233});
[[1314.6,1170],[1476.5,1139.3],[1722.2,1175],[1872.4,1111.7]].forEach(p=>T(p[0],p[1]+8,"*",{size:34}));
T(1477.3,1006,"Nx",{size:23,w:30});T(1477.3,1039.3,"Hx",{size:23,w:30});
T(1848.4,1006,"Nx-siCtrl",{size:23,w:100.6});T(1863.9,1042.7,"Nx-siAGO1",{size:23,w:125.8});
</script></body></html>
